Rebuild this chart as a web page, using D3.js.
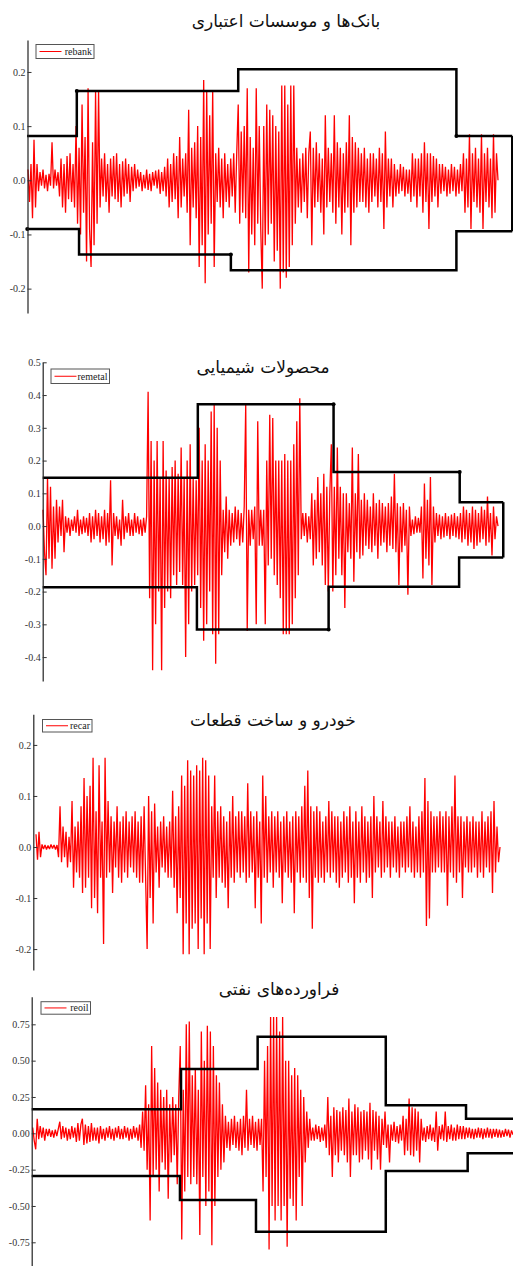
<!DOCTYPE html>
<html><head><meta charset="utf-8">
<script src="https://cdn.jsdelivr.net/npm/d3@7"></script>
<style>
html,body{margin:0;padding:0;background:#fff;}
svg{display:block;}
</style></head>
<body>
<svg id="chart" width="513" height="1266"></svg>
<script>
// ---------------- DATA ----------------
const titles = ["بانک\u200cها و موسسات اعتباری", "محصولات شیمیایی", "خودرو و ساخت قطعات", "فراورده\u200cهای نفتی"];
const seriesNames = ["rebank", "remetal", "recar", "reoil"];

const rebank = [.02,-.04,.03,-.07,.075,-.05,.03,-.02,
.015,-.01,.02,-.015,.01,-.02,.012,-.01,.07,-.015,.02,-.01,.015,
-.03,.04,-.05,.03,-.06,.045,-.035,.05,-.04,.03,-.05,
.1,-.08,.06,-.1,.14,-.06,.08,-.15,.17,-.09,-.16,.07,-.12,.165,-.08,.165,
-.05,.04,-.03,.05,-.04,.03,-.06,.04,-.03,.045,-.035,.05,-.04,.03,-.05,.035,-.03,.04,-.025,.03,-.04,.025,-.02,.03,
-.015,.02,-.012,.015,-.02,.01,-.015,.02,-.018,.012,-.02,.015,-.01,.018,-.015,.02,-.025,.015,-.02,.025,
-.03,.04,-.05,.03,-.04,.05,-.035,.045,-.07,.08,-.05,.04,-.03,
.05,-.06,.13,-.12,.06,-.05,.07,
-.07,.1,-.16,.08,-.12,.185,-.19,.165,-.1,.12,-.08,
.165,-.16,.05,-.04,.06,-.05,.04,-.07,.05,-.04,.03,-.05,.04,-.03,.05,
-.06,.05,.14,-.08,.09,-.06,.1,-.07,.17,-.17,.08,-.1,.06,-.12,.17,-.08,.1,-.09,
-.2,.1,-.12,.14,-.1,.13,-.08,.12,-.15,.1,-.13,.09,-.2,.175,-.17,.175,-.18,.14,-.16,.175,-.12,.175,
-.08,.06,-.05,.04,-.06,.05,-.04,.06,-.07,.05,.09,-.12,.06,-.05,.07,-.04,.05,-.06,.04,-.1,.12,-.05,.06,-.04,
.05,-.06,.12,-.08,.07,-.05,.06,-.1,.05,-.06,.07,-.05,.12,-.12,.08,-.06,.07,-.05,.06,-.04,
.05,-.04,.06,-.05,.04,-.06,.05,-.04,.05,-.03,.04,-.05,.06,-.04,.05,-.09,.09,-.05,.04,-.03,.04,-.05,.03,
-.03,.02,-.025,.03,-.02,.025,-.03,.02,-.025,.02,
-.04,.05,-.03,.04,-.05,.04,-.03,.05,-.06,.07,-.04,.05,-.09,.05,-.04,.045,-.03,.04,-.05,.03,
-.025,.03,-.02,.025,-.03,.02,-.025,.03,-.02,.025,-.03,.02,-.025,.03,-.02,
.05,-.06,.04,-.05,.085,-.09,.05,-.04,.06,-.05,.04,-.06,.085,-.09,.05,-.04,.06,-.05,.04,-.07,.085,-.06,.05,0];

const remetal = [.05,-.08,-.15,.15,-.1,.12,-.13,.06,-.1,.08,-.05,.06,
-.03,.08,-.08,.03,-.02,.025,-.03,.02,-.015,.03,-.02,.05,-.03,.02,-.025,.03,-.02,.025,-.03,
.04,-.05,.03,-.04,.05,-.03,.04,-.05,.03,-.04,.05,-.06,.04,-.05,
.14,-.12,.04,-.03,.03,-.04,.02,-.06,.08,-.04,.03,-.02,.04,-.03,.02,-.03,.04,-.02,.03,-.025,.02,-.03,.025,-.02,.03,
.41,-.22,.26,-.44,.2,-.3,
.26,-.2,.15,-.44,.26,-.25,.17,-.2,.15,-.22,.18,-.15,.2,-.18,.16,-.14,.24,-.18,.15,-.4,.2,-.3,.25,-.2,.15,-.18,.14,-.15,
.3,-.25,.2,-.35,.25,-.3,.2,-.2,.35,-.33,.37,-.42,.3,-.33,.2,
-.15,.05,-.08,.09,-.1,.05,-.06,.04,-.05,.06,-.04,.05,-.06,.04,-.05,.06,
.37,-.32,.05,-.06,.05,-.04,.06,-.3,.32,-.06,.05,-.06,.05,
-.3,.2,-.12,.34,-.1,.33,-.15,.2,-.18,.2,-.22,.2,-.33,.22,-.33,.2,-.33,.2,-.3,.25,-.22,.32,-.15,
.39,-.04,.04,-.03,.04,-.05,.03,-.04,
.1,-.12,.08,-.1,.15,-.08,.1,-.12,.16,-.18,.12,-.2,.1,
.25,-.2,.12,-.15,.24,-.1,.12,-.15,.1,-.25,
.1,-.08,.07,-.1,.24,-.17,.1,-.08,.22,-.1,.08,-.09,.1,
-.06,.08,-.07,.06,-.08,.1,-.06,.07,-.1,.08,-.06,.07,-.05,.06,-.08,.07,-.06,.09,-.07,.16,-.08,.07,-.18,.06,-.08,.07,-.06,.05,-.21,.06,
-.03,.02,-.025,.03,-.02,.025,-.02,
.06,-.16,.13,-.1,.08,-.12,.15,-.18,.06,-.05,
.04,-.03,.035,-.04,.03,-.035,.04,-.03,.03,-.04,.035,-.03,.04,-.035,.03,-.04,
.04,-.05,.06,-.04,.05,-.06,.04,-.05,.06,-.07,.05,-.06,.04,-.05,.06,-.04,.05,-.06,.09,-.05,.04,-.09,.06,-.04,.03,0];

const recar = [.025,-.025,.03,-.02,
.005,-.004,.004,-.005,.003,-.004,.005,-.003,.004,-.005,.004,
-.02,.08,-.03,.04,-.02,.03,-.04,.02,
-.03,.09,-.08,.04,-.05,
.05,-.06,.08,-.09,.135,-.08,.1,-.06,.12,-.12,.175,-.1,.07,-.13,.16,
-.06,.05,-.19,.175,-.06,.09,-.05,.06,-.09,.05,-.04,.08,-.06,.05,-.07,.06,-.05,.07,-.06,.05,-.04,.06,-.05,.07,-.06,.05,-.07,
.06,-.07,.08,-.06,-.2,.1,-.1,.07,-.15,.085,
-.05,.04,-.08,.05,-.04,.06,-.05,.04,-.06,.05,
-.06,.11,-.08,.06,-.13,.08,-.1,.14,-.21,.12,
-.15,.17,-.21,.15,-.16,.14,-.15,.16,-.2,.15,-.14,.175,-.21,.17,-.15,.14,
-.2,.08,-.06,.14,-.1,.07,-.06,.08,-.07,.06,-.08,.05,-.12,.07,-.06,.1,-.07,.06,-.05,.07,
-.06,.07,-.05,.06,-.07,.125,-.06,.07,-.05,.06,-.12,.07,-.06,.05,-.15,.14,-.06,.1,-.07,.06,-.05,.07,-.08,.06,-.05,.07,-.06,.05,-.11,.06,-.05,.07,-.06,.05,-.07,.06,-.13,.07,-.05,.06,
-.07,.08,-.06,.12,-.07,.15,-.1,.08,-.16,.07,-.06,.08,-.07,
.07,-.06,.05,-.07,.06,-.05,.09,-.06,.07,-.05,.06,-.07,.06,-.08,.05,-.06,.07,-.05,.06,-.07,.08,-.06,.05,-.11,.07,-.06,.05,-.07,.08,-.05,.06,-.07,.05,-.06,
.06,-.1,.1,-.05,.06,-.04,.05,-.06,.09,-.05,.06,-.04,.05,-.06,.05,-.04,.06,-.05,.04,-.06,.05,-.04,.05,
-.05,.06,-.04,.08,-.05,.05,-.06,.04,-.05,.06,
-.06,.07,-.05,.135,-.155,.09,-.14,.07,-.05,.06,
-.05,.06,-.04,.07,-.05,.06,-.05,.07,-.115,.06,-.05,.08,-.06,.14,-.07,.06,-.05,.06,-.1,.05,-.04,.06,-.05,
.05,-.05,.06,-.04,.05,-.06,.05,-.05,.07,-.06,.05,-.04,.06,-.05,.07,-.09,.09,-.05,.04,-.03,0];

const reoil = [.04,-.05,-.11,.1,-.04,.05,-.03,.04,-.05,.03,
-.02,.03,-.025,.02,-.03,.025,-.02,.03,.08,-.04,
.05,-.03,.04,-.05,.03,-.04,.05,-.03,.04,-.06,
.07,-.05,.06,.1,-.08,.06,-.07,.05,-.06,.07,
-.05,.04,-.05,.04,-.07,.05,-.04,.03,-.05,.04,
-.03,.05,-.04,.03,-.05,.04,-.03,.05,-.04,.03,
-.04,.05,-.03,.04,-.05,.03,-.04,.05,-.03,.04,
-.05,.06,
-.1,.15,-.12,.33,-.25,.2,
-.6,.6,-.3,.45,-.25,.35,-.4,
.3,-.2,.25,-.25,.3,-.45,.2,-.2,.25,-.15,.2,-.35,.25,
.6,-.73,.3,-.4,.75,-.3,.77,-.35,.4,-.3,.45,-.35,.3,-.7,.7,-.3,.5,-.5,.74,-.4,.7,-.77,.6,-.5,.4,-.3,.35,-.25,.2,-.2,
.12,-.1,.08,-.12,.1,-.08,.12,-.1,.08,-.12,.1,-.15,.12,-.1,.3,-.12,.1,-.08,.12,-.1,.08,-.12,.1,-.08,.1,
-.4,.5,-.3,.6,-.8,.8,-.5,.8,-.6,.8,-.5,.7,-.6,.8,-.5,.5,-.78,.5,-.45,.4,-.5,.45,-.6,.4,-.3,.3,-.5,.25,-.2,.15,-.1,.1,
-.05,.04,-.05,.06,-.04,.05,-.06,.04,-.05,.06,
-.1,.25,-.15,.12,-.3,.18,-.15,.16,-.2,.15,-.12,.18,-.15,.16,-.2,.24,-.3,.15,-.15,.2,-.15,.18,-.2,.15,-.18,.16,-.12,.15,-.18,.21,-.25,.16,-.12,.15,-.18,.12,-.25,
.1,-.08,.15,-.1,.06,-.2,.06,-.05,.08,-.06,.05,-.07,.06,-.05,
.12,-.15,.1,-.12,.24,-.15,.18,-.16,.17,-.12,.15,-.2,.1,
-.05,.04,-.06,.05,-.04,.06,-.05,.04,-.06,.15,-.12,.05,-.04,.06,-.05,.15,-.06,.05,-.04,.06,-.05,.04,-.05,.06,-.04,.05,-.04,.05,-.04,
.04,-.03,.04,-.035,.03,-.04,.03,-.03,.04,-.03,.035,-.04,.03,-.03,.04,-.03,.03,-.035,.03,-.025,.03,-.03,.025,-.03,.02,-.025,.03,-.02,.025,-.03,.02,-.01];

// step bands (x in observation index, y in return units)
const rebankUpperX = [-0.67, 32.5, 140, 285.3, 322.5];
const rebankUpperY = [0.082, 0.165, 0.205, 0.082];
const rebankLowerX = [-0.67, 34, 135.1, 285.3, 322.5];
const rebankLowerY = [-0.09, -0.137, -0.166, -0.094];
const rebankDotsX = [32.5, 135.1, 285.3, -0.5];
const rebankDotsY = [0.165, -0.137, 0.082, -0.09];

const remetalUpperX = [-0.2, 103.1, 193.5, 277.5, 306.5];
const remetalUpperY = [0.1475, 0.372, 0.165, 0.073];
const remetalLowerX = [-0.2, 102.5, 190.2, 277.1, 306.5];
const remetalLowerY = [-0.187, -0.316, -0.185, -0.096];
const remetalDotsX = [277.5, 190.2, 193.5];
const remetalDotsY = [0.165, -0.316, 0.372];

const reoilUpperX = [-0.66, 98.5, 149.4, 234.5, 287.8, 321];
const reoilUpperY = [0.165, 0.443, 0.665, 0.193, 0.10];
const reoilLowerX = [-0.66, 97.8, 148.3, 234.5, 288.9, 321];
const reoilLowerY = [-0.294, -0.459, -0.677, -0.259, -0.138];

// axis ticks
const rebankTicks = [-0.2, -0.1, 0.0, 0.1, 0.2];
const remetalTicks = [-0.4, -0.3, -0.2, -0.1, 0.0, 0.1, 0.2, 0.3, 0.4, 0.5];
const recarTicks = [-0.2, -0.1, 0.0, 0.1, 0.2];
const reoilTicks = [-0.75, -0.50, -0.25, 0.00, 0.25, 0.50, 0.75];

// ---------------- LAYOUT ----------------
const layout = [
  {title: titles[0], titleX: 286, titleY: 27, name: seriesNames[0], data: rebank, n: 314,
   axisX: 27.5, top: 40, bottom: 313, domain: [-0.245, 0.259], x0: 28, x1: 498,
   ticks: rebankTicks, minorStep: 0.02, fmt: ".1f",
   band: {ux: rebankUpperX, uy: rebankUpperY, lx: rebankLowerX, ly: rebankLowerY, close: true},
   dots: {x: rebankDotsX, y: rebankDotsY},
   legend: {x: 36, y: 44.5, w: 58, h: 14}},
  {title: titles[1], titleX: 263, titleY: 373, name: seriesNames[1], data: remetal, n: 304,
   axisX: 42.7, top: 362.3, bottom: 681, domain: [-0.473, 0.5], x0: 43, x1: 498,
   ticks: remetalTicks, minorStep: 0.05, fmt: ".1f",
   band: {ux: remetalUpperX, uy: remetalUpperY, lx: remetalLowerX, ly: remetalLowerY, close: true},
   dots: {x: remetalDotsX, y: remetalDotsY},
   legend: {x: 51, y: 369, w: 58.5, h: 14.5}},
  {title: titles[2], titleX: 273, titleY: 726, name: seriesNames[2], data: recar, n: 310,
   axisX: 33.3, top: 714.3, bottom: 970, domain: [-0.241, 0.26], x0: 36, x1: 500,
   ticks: recarTicks, minorStep: 0.02, fmt: ".1f",
   band: null, dots: null,
   legend: {x: 42.5, y: 719.5, w: 49.5, h: 12.5}},
  {title: titles[3], titleX: 279, titleY: 995, name: seriesNames[3], data: reoil, n: 320,
   axisX: 31.7, top: 996.7, bottom: 1266, domain: [-0.913, 0.94], x0: 32.7, x1: 513,
   ticks: reoilTicks, minorStep: 0.05, fmt: ".2f",
   band: {ux: reoilUpperX, uy: reoilUpperY, lx: reoilLowerX, ly: reoilLowerY, close: false},
   dots: null,
   legend: {x: 41, y: 1001.7, w: 49.5, h: 12.5}}
];

const locale = d3.formatLocale({decimal: ".", thousands: ",", grouping: [3], currency: ["", ""], minus: "-"});
const svg = d3.select("#chart");

layout.forEach(p => {
  const g = svg.append("g");
  const y = d3.scaleLinear().domain(p.domain).range([p.bottom, p.top]);
  const x = d3.scaleLinear().domain([0, p.n - 1]).range([p.x0, p.x1]);
  const xd = d3.scaleLinear().domain([0, p.data.length - 1]).range([p.x0, p.x1]);

  g.append("text")
    .attr("x", p.titleX).attr("y", p.titleY)
    .attr("text-anchor", "middle")
    .attr("direction", "rtl")
    .style("font-family", "'DejaVu Serif','Liberation Serif','DejaVu Sans',serif")
    .style("font-size", "17px")
    .attr("fill", "#111")
    .text(p.title);

  const line = d3.line().x((d, i) => xd(i)).y(d => y(d));
  g.append("path").datum(p.data)
    .attr("d", line)
    .attr("fill", "none")
    .attr("stroke", "#ff0000")
    .attr("stroke-width", 1.3)
    .attr("stroke-linejoin", "bevel");

  if (p.band) {
    const b = p.band;
    const mk = (xs, ys) => xs.map((xv, k) => [xv, ys[Math.min(k, ys.length - 1)]]);
    const stepLine = d3.line().curve(d3.curveStepAfter).x(d => x(d[0])).y(d => y(d[1]));
    [mk(b.ux, b.uy), mk(b.lx, b.ly)].forEach(pts => {
      g.append("path").datum(pts).attr("d", stepLine)
        .attr("fill", "none").attr("stroke", "#000").attr("stroke-width", 2.5);
    });
    if (b.close) {
      const xe = b.ux[b.ux.length - 1];
      g.append("path")
        .datum([[xe, b.uy[b.uy.length - 1]], [xe, b.ly[b.ly.length - 1]]])
        .attr("d", d3.line().x(d => x(d[0])).y(d => y(d[1])))
        .attr("fill", "none").attr("stroke", "#000").attr("stroke-width", 2.5);
    }
  }
  if (p.dots) {
    g.selectAll(null).data(p.dots.x).enter().append("circle")
      .attr("cx", d => x(d)).attr("cy", (d, k) => y(p.dots.y[k]))
      .attr("r", 2).attr("fill", "#000");
  }

  const minor = d3.range(Math.ceil(p.domain[0] / p.minorStep - 1e-6), Math.floor(p.domain[1] / p.minorStep + 1e-6) + 1)
    .map(k => +(k * p.minorStep).toFixed(4));
  const ax = g.append("g").attr("transform", `translate(${p.axisX},0)`);
  ax.call(d3.axisLeft(y).tickValues(minor).tickSize(-2).tickSizeOuter(0).tickFormat(""));
  ax.call(d3.axisLeft(y).tickValues(p.ticks).tickSize(-4).tickSizeOuter(0).tickPadding(2)
    .tickFormat(locale.format(p.fmt)));
  ax.selectAll(".domain").attr("stroke", "#222").attr("stroke-width", 1.2);
  ax.selectAll(".tick line").attr("stroke", "#333");
  ax.selectAll(".tick text")
    .style("font-family", "'Liberation Serif','Times New Roman',serif")
    .style("font-size", "10px")
    .attr("fill", "#333");

  const L = p.legend;
  const lg = g.append("g");
  lg.append("rect").attr("x", L.x).attr("y", L.y).attr("width", L.w).attr("height", L.h)
    .attr("fill", "#fff").attr("stroke", "#555").attr("stroke-width", 1);
  lg.append("line").attr("x1", L.x + 3.5).attr("x2", L.x + 25.5)
    .attr("y1", L.y + L.h / 2).attr("y2", L.y + L.h / 2)
    .attr("stroke", "#ff0000").attr("stroke-width", 1);
  lg.append("text").attr("x", L.x + L.w - 2).attr("y", L.y + L.h / 2 + 3.3)
    .attr("text-anchor", "end")
    .style("font-family", "'Liberation Serif','Times New Roman',serif")
    .style("font-size", "10px").attr("fill", "#222")
    .text(p.name);
});
</script>
</body></html>
